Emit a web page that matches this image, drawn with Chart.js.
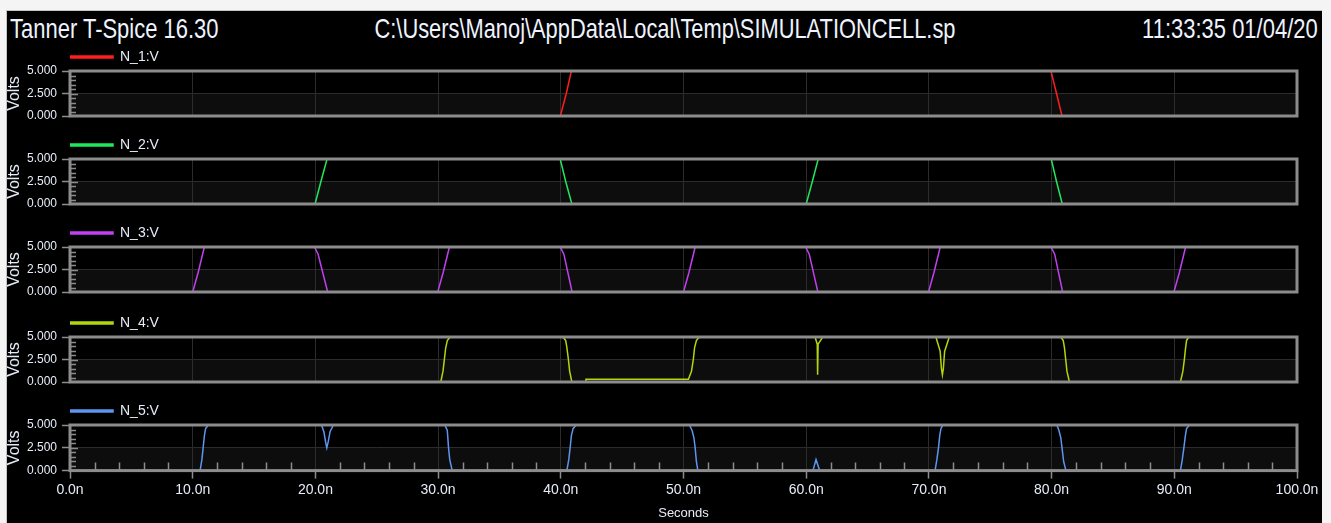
<!DOCTYPE html>
<html>
<head>
<meta charset="utf-8">
<script src="https://cdn.jsdelivr.net/npm/chart.js@4.4.1/dist/chart.umd.min.js"></script>
<style>
  html, body { margin: 0; padding: 0; }
  body { width: 1331px; height: 523px; background: #f4f4f4; position: relative; overflow: hidden; }
  #frame { position: absolute; left: 6px; top: 10px; width: 1315px; height: 513px; background: #000; border-left: 1px solid #c4c4c4; border-top: 1px solid #c4c4c4; }
  .hdr { position: absolute; top: 15px; font-family: 'Liberation Sans', Arial, sans-serif; font-size: 28px; line-height: 28px; color: #eef3ff; white-space: nowrap; }
  #h1 { left: 10px; transform: scaleX(0.785); transform-origin: left top; }
  #h2 { left: 665px; transform: translateX(-50%) scaleX(0.78); transform-origin: center top; }
  #h3 { right: 13px; transform: scaleX(0.785); transform-origin: right top; }
  canvas { position: absolute; left: 0; }
</style>
</head>
<body>
<div id="frame"></div>
<div class="hdr" id="h1">Tanner T-Spice 16.30</div>
<div class="hdr" id="h2">C:\Users\Manoj\AppData\Local\Temp\SIMULATIONCELL.sp</div>
<div class="hdr" id="h3">11:33:35 01/04/20</div>

<canvas id="p1" width="1331" height="86" style="top:43px"></canvas>
<canvas id="p2" width="1331" height="86" style="top:131px"></canvas>
<canvas id="p3" width="1331" height="86" style="top:219px"></canvas>
<canvas id="p4" width="1331" height="86" style="top:309px"></canvas>
<canvas id="p5" width="1331" height="126" style="top:397px"></canvas>

<script>
// tick labels / axis ranges
const xTickValues = [0, 10, 20, 30, 40, 50, 60, 70, 80, 90, 100];
const yTickValues = [0, 2.5, 5];
const seriesNames = ['N_1:V', 'N_2:V', 'N_3:V', 'N_4:V', 'N_5:V'];
const seriesColors = ['#ff1e1e', '#1fe85c', '#c43ff2', '#b6d40c', '#5c96f0'];

// time (ns) / voltage (V) samples
const n1Time = [0, 39.96, 40.45, 40.86, 79.95, 80.4, 80.85, 100];
const n1Volt = [0, 0, 2.5, 5, 5, 2.5, 0, 0];

const n2Time = [0, 19.97, 20.45, 20.95, 39.95, 40.4, 40.9, 60.0, 60.5, 60.98, 79.97, 80.4, 80.87, 100];
const n2Volt = [0, 0, 2.5, 5, 5, 2.5, 0, 0, 2.5, 5, 5, 2.5, 0, 0];

const n3Time = [0, 10.0, 10.45, 10.95, 19.92, 20.22, 21.0, 29.97, 30.42, 30.92, 39.95, 40.25, 40.92,
  50.0, 50.45, 50.95, 59.95, 60.25, 60.95, 69.97, 70.42, 70.92, 79.95, 80.25, 80.9, 89.97, 90.42, 90.92, 100];
const n3Volt = [0, 0, 2.2, 5, 5, 4.2, 0, 0, 2.2, 5, 5, 4.2, 0,
  0, 2.2, 5, 5, 4.2, 0, 0, 2.2, 5, 5, 4.2, 0, 0, 2.2, 5, 5];

const n4Time = [0, 30.22, 30.4, 30.51, 30.62, 30.75, 30.98, 40.17, 40.4, 40.5, 40.62, 40.72, 40.9,
  42.0, 42.05, 50.4, 50.65, 50.8, 50.9, 51.05, 51.28, 60.72, 60.9, 60.93, 60.97, 61.35,
  70.57, 70.92, 71.02, 71.1, 71.18, 71.28, 71.66, 80.75, 80.95, 81.05, 81.15, 81.25, 81.45,
  90.5, 90.7, 90.82, 90.92, 91.0, 91.17, 100];
const n4Volt = [0, 0, 1.2, 2.5, 3.8, 4.6, 5, 5, 4.6, 3.8, 2.5, 1.2, 0,
  0, 0.3, 0.3, 1.2, 2.5, 3.8, 4.6, 5, 5, 4.2, 0.8, 4.2, 5,
  5, 3.4, 1.5, 0.8, 1.5, 3.4, 5, 5, 4.6, 3.8, 2.5, 1.2, 0,
  0, 1.2, 2.5, 3.8, 4.6, 5, 5];

const n5Time = [0, 10.6, 10.75, 10.85, 10.95, 11.05, 11.27, 20.5, 20.7, 20.85, 20.93, 21.05, 21.2, 21.47,
  30.55, 30.75, 30.85, 30.95, 31.15, 40.49, 40.65, 40.76, 40.86, 41.0, 41.25,
  50.48, 50.7, 50.85, 50.95, 51.05, 51.17, 60.55, 60.8, 61.1,
  70.5, 70.65, 70.78, 70.88, 70.98, 71.14, 80.43, 80.6, 80.75, 80.85, 80.98, 81.17,
  90.5, 90.65, 90.78, 90.9, 91.0, 91.23, 100];
const n5Volt = [0, 0, 1.2, 2.5, 3.8, 4.6, 5, 5, 4.2, 3.0, 2.5, 3.2, 4.3, 5,
  5, 4.4, 2.5, 1.2, 0, 0, 1.2, 2.5, 3.8, 4.6, 5,
  5, 4.4, 3.6, 2.5, 1.0, 0, 0, 1.2, 0,
  0, 1.2, 2.5, 3.8, 4.6, 5, 5, 4.4, 3.6, 2.5, 1.0, 0,
  0, 1.2, 2.5, 3.8, 4.6, 5, 5];

const allTimes = [n1Time, n2Time, n3Time, n4Time, n5Time];
const allVolts = [n1Volt, n2Volt, n3Volt, n4Volt, n5Volt];

const textColor = '#e6ecf7';
const frameGrey = '#8c8c8c';
const narrow = "'Liberation Sans Narrow', 'Arial Narrow', 'Liberation Sans', Arial, sans-serif";
Chart.defaults.font.family = "'Liberation Sans', Arial, sans-serif";

// panel background halves, inner minor ticks and the grey frame
const panelDecor = {
  id: 'panelDecor',
  afterLayout(chart) {
    chart.legend.top += 3;
    chart.legend.bottom += 3;
  },
  beforeDraw(chart) {
    const {ctx, chartArea: a, scales: {y}} = chart;
    const mid = y.getPixelForValue(2.5);
    ctx.save();
    ctx.fillStyle = '#0d0d0d';
    ctx.fillRect(a.left, mid, a.right - a.left, a.bottom - mid);
    ctx.restore();
  },
  afterDatasetsDraw(chart, args, opts) {
    const {ctx, chartArea: a, scales: {x, y}} = chart;
    ctx.save();
    ctx.strokeStyle = frameGrey;
    ctx.lineWidth = 1.5;
    ctx.beginPath();
    for (let v = 0.5; v < 5; v += 0.5) {
      const py = Math.round(y.getPixelForValue(v)) + 0.5;
      ctx.moveTo(a.left, py);
      ctx.lineTo(a.left + (Math.abs(v - 2.5) < 0.01 ? 8 : 6), py);
    }
    if (opts.xMinor) {
      for (let t = 2; t < 100; t += 2) {
        if (t % 10 === 0) continue;
        const px = Math.round(x.getPixelForValue(t)) + 0.5;
        ctx.moveTo(px, a.bottom);
        ctx.lineTo(px, a.bottom - 8);
      }
    }
    ctx.stroke();
    ctx.lineWidth = 3;
    ctx.strokeRect(a.left, a.top, a.right - a.left, a.bottom - a.top);
    ctx.restore();
  }
};

function makePanel(idx) {
  const last = idx === 4;
  const pts = allTimes[idx].map((t, i) => ({x: t, y: allVolts[idx][i]}));
  return new Chart(document.getElementById('p' + (idx + 1)), {
    type: 'line',
    data: {
      datasets: [{
        label: seriesNames[idx],
        data: pts,
        borderColor: seriesColors[idx],
        backgroundColor: seriesColors[idx],
        borderWidth: 1.5,
        pointRadius: 0,
        tension: 0
      }]
    },
    options: {
      responsive: false,
      animation: false,
      events: [],
      layout: {padding: {left: 0, right: 34, top: 4, bottom: last ? 0 : 13}},
      plugins: {
        legend: {
          position: 'top',
          align: 'start',
          fullSize: false,
          labels: {
            boxWidth: 43,
            boxHeight: 2,
            padding: 0,
            color: textColor,
            font: {family: narrow, size: 14}
          }
        },
        tooltip: {enabled: false},
        panelDecor: {xMinor: last}
      },
      scales: {
        x: {
          type: 'linear',
          min: 0,
          max: 100,
          afterBuildTicks: s => { s.ticks = xTickValues.map(v => ({value: v})); },
          ticks: {
            display: last,
            color: textColor,
            padding: 3,
            maxRotation: 0,
            font: {family: narrow, size: 14},
            callback: v => v.toFixed(1) + 'n'
          },
          grid: {color: '#2c2c2c', lineWidth: 1, drawTicks: last, tickLength: 8, tickColor: frameGrey, tickWidth: 1.5},
          border: {display: false},
          title: {display: last, text: 'Seconds', color: textColor, font: {family: narrow, size: 13}, padding: {top: 4, bottom: 2}}
        },
        y: {
          min: 0,
          max: 5,
          afterBuildTicks: s => { s.ticks = yTickValues.map(v => ({value: v})); },
          afterFit: s => { s.width = 70; },
          ticks: {
            color: textColor,
            padding: 5,
            font: {size: 12},
            callback: v => v.toFixed(3)
          },
          grid: {color: '#2c2c2c', lineWidth: 1, tickLength: 8, tickColor: frameGrey, tickWidth: 1.5},
          border: {display: false},
          title: {display: true, text: 'Volts', color: textColor, font: {size: 16}, padding: {top: 5, bottom: 0}}
        }
      }
    },
    plugins: [panelDecor]
  });
}

for (let i = 0; i < 5; i++) makePanel(i);
</script>
</body>
</html>
